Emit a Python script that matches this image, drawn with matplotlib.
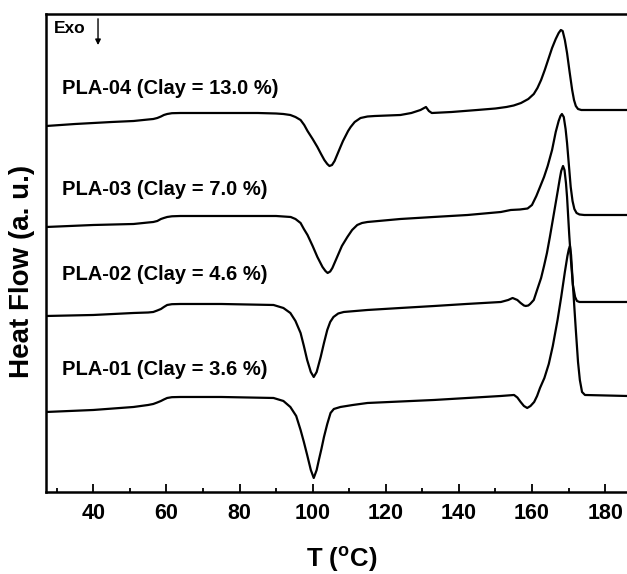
"""
DSC heating scans of PLA/clay nanocomposites
Stacked heat-flow curves, exo down
"""

import matplotlib.pyplot as plt

plt.rcParams.update({
    'font.family': 'Liberation Sans',
    'font.weight': 'bold',
    'mathtext.fontset': 'custom',
    'mathtext.rm': 'Liberation Sans:bold',
    'mathtext.bf': 'Liberation Sans:bold',
    'axes.linewidth': 1.8,
})

# Temperatures (deg C) and heat flow (a.u., endo up) for each sample
t_pla04 = [27.1, 35, 45, 51, 55, 56.4, 57.5, 58.5, 59.3, 60.2,
           61.5, 63.8, 75, 85, 90, 92, 93.9, 95.3, 96.7, 97.7,
           98.6, 100, 101.3, 102.3, 103.2, 104, 104.6, 105.3, 106, 106.8,
           107.6, 108.3, 109, 109.7, 110.4, 111.5, 113.1, 115, 117, 124,
           127, 129.5, 131, 131.8, 132.6, 138, 145, 150, 153, 155,
           157, 159, 160.5, 161.5, 162.5, 163.5, 164.5, 165.5, 166.5, 167.3,
           167.9, 168.4, 169, 169.6, 170.3, 171, 171.5, 172, 172.6, 173.5,
           186]
hf_pla04 = [0, 2, 4, 5, 6.5, 7, 8, 9.5, 11, 12,
            12.8, 13, 13, 13, 12.5, 12, 11, 9, 6, 1,
            -5, -13, -21, -28, -34, -38, -40, -39, -35, -28,
            -21, -15, -10, -5, -1, 4, 8, 9.5, 10, 11,
            13, 16, 19, 15, 13, 14, 16, 17.5, 19, 20.5,
            23, 27, 32, 38, 46, 56, 67, 78, 87, 93,
            96, 95, 86, 73, 54, 36, 26, 20, 17, 16,
            16]

t_pla03 = [27.1, 40, 51, 55, 56.4, 57.5, 58.5, 59.3, 60.2, 61.5,
           63.8, 80, 90, 94, 95.3, 96.7, 97.6, 98.6, 100, 101.3,
           102.7, 103.5, 104.1, 104.8, 105.4, 106.7, 108, 109.5, 110.8, 112.2,
           113.5, 115, 124, 133, 142.4, 151.5, 154.2, 156.7, 158.8, 160,
           161.2, 162.2, 163.3, 164.3, 165.5, 166.5, 167.3, 167.8, 168.2, 168.7,
           169.2, 169.6, 170.1, 170.6, 171.1, 171.6, 172.2, 173, 174.3, 186]
hf_pla03 = [0, 2, 3, 4.5, 5, 6, 8, 9, 10, 10.7,
            11, 11, 11, 10, 8, 4, -2, -8, -19, -30,
            -40, -44, -46, -44.5, -41, -30, -19, -10, -3, 2,
            4, 5, 8, 10, 12, 15, 17, 17.5, 18.5, 22,
            31, 40, 50, 61, 77, 95, 106, 111, 113, 110,
            98, 84, 62, 40, 26, 18, 14, 12.5, 12, 12]

t_pla02 = [27.1, 40, 51, 55, 56.4, 57.5, 58.5, 59.3, 60.2, 61.5,
           63.8, 75, 89.3, 92, 93.9, 95.3, 96.7, 97.6, 98.5, 99.5,
           100.3, 101.1, 102.2, 103.1, 104, 104.8, 105.7, 107, 108.5, 115,
           124, 133.3, 142, 151.5, 153.5, 154.7, 156, 156.9, 157.8, 158.3,
           159, 159.5, 160.5, 161.4, 162.5, 163.3, 164.1, 164.9, 165.7, 166.4,
           167.1, 167.6, 168, 168.5, 168.9, 169.3, 169.6, 169.9, 170.2, 170.7,
           171.2, 171.8, 172.3, 173, 186]
hf_pla02 = [0, 1, 3, 3.5, 4, 5.5, 7, 9, 11, 11.8,
            12, 12, 11, 8, 3, -5, -17, -30, -44, -56,
            -61, -56, -41, -27, -14, -6, -1, 2.5, 4, 6,
            8, 10, 12, 14, 16, 18, 16, 13, 10.5, 10,
            10.5, 12, 16, 26, 38, 50, 63, 79, 96, 111,
            126, 137, 145, 150, 146, 133, 119, 100, 81, 54,
            31, 19, 15, 14, 14]

t_pla01 = [27.1, 40, 51, 55, 56.4, 57.5, 58.5, 59.3, 60.2, 61.5,
           63.8, 75, 89.3, 92, 93.9, 95.5, 96.7, 97.6, 98.5, 99.5,
           100.3, 101.1, 101.7, 102.4, 103.1, 104, 104.9, 105.8, 107.6, 111,
           115, 133.2, 151.5, 155.1, 156, 156.9, 157.8, 158.7, 159.6, 160.6,
           161.4, 162.2, 163.4, 164.6, 165.7, 166.4, 167, 168, 169, 169.7,
           170.1, 170.4, 170.7, 171.2, 172, 172.6, 173.1, 173.7, 174.5, 186]
hf_pla01 = [0, 2, 5, 7, 8, 9.5, 11, 12.5, 14, 14.8,
            15, 15, 14, 11, 5, -4, -18, -30, -43, -58,
            -66, -58, -48, -37, -25, -12, -1, 3, 5, 7,
            9, 12, 16, 17, 14.5, 10, 6, 4, 6, 10,
            16, 24, 34, 48, 66, 80, 92, 115, 140, 156,
            163, 166, 157, 127, 82, 50, 32, 20, 17, 16]

labels = ['PLA-04 (Clay = 13.0 %)', 'PLA-03 (Clay = 7.0 %)',
          'PLA-02 (Clay = 4.6 %)', 'PLA-01 (Clay = 3.6 %)']
temps = [t_pla04, t_pla03, t_pla02, t_pla01]
flows = [hf_pla04, hf_pla03, hf_pla02, hf_pla01]

# vertical stacking of the curves and where their names sit
offsets = [366, 265, 176, 80]
label_y = [404, 302, 217, 122]

fig = plt.figure(figsize=(6.27, 5.74), dpi=100)
ax = fig.add_axes([0.0734, 0.1429, 0.9266, 0.8327])

for t, hf, off, name, ly in zip(temps, flows, offsets, labels, label_y):
    ax.plot(t, [v + off for v in hf], color='black', linewidth=1.6)
    ax.text(31.4, ly, name, fontsize=14.5, fontweight='bold',
            ha='left', va='center')

# exotherm direction marker
ax.text(0.04, 0.969, 'Exo', transform=ax.transAxes, fontsize=12.5,
        fontweight='bold', ha='center', va='center')
ax.annotate('', xy=(0.0895, 0.935), xytext=(0.0895, 0.99),
            xycoords='axes fraction',
            arrowprops=dict(arrowstyle='-|>', color='black', lw=1,
                            mutation_scale=8, shrinkA=0, shrinkB=0))

ax.set_xlim(27.06, 186)
ax.set_ylim(0, 478)
ax.set_xticks(range(40, 181, 20))
ax.set_xticks(range(30, 186, 20), minor=True)
ax.set_yticks([])
ax.tick_params(axis='x', which='both', direction='in', top=False,
               labelsize=15.5, pad=8)
ax.tick_params(axis='x', which='major', length=6, width=1.3)
ax.tick_params(axis='x', which='minor', length=3, width=1.3)
for lab in ax.get_xticklabels():
    lab.set_fontweight('bold')
ax.spines['right'].set_visible(False)

ax.set_xlabel(r'T ($^{\mathbf{o}}$C)', fontsize=18.5, fontweight='bold')
ax.xaxis.set_label_coords(0.509, -0.14)
ax.xaxis.label.set_verticalalignment('center')
ax.set_ylabel('Heat Flow (a. u.)', fontsize=20, fontweight='bold')
ax.yaxis.set_label_coords(-0.041, 0.461)
ax.yaxis.label.set_verticalalignment('center')

plt.savefig('out.png', dpi=100)
plt.close()
